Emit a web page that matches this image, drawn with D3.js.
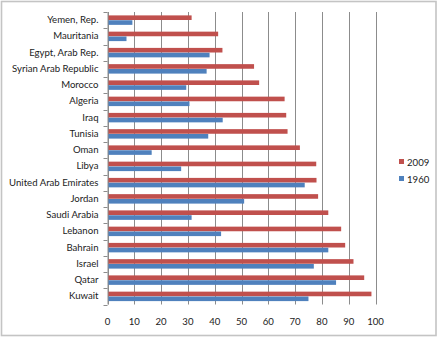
<!DOCTYPE html>
<html>
<head>
<meta charset="utf-8">
<script src="https://cdn.jsdelivr.net/npm/d3@7"></script>
<style>
  html, body { margin: 0; padding: 0; background: #fff; }
  svg { display: block; }
  text { font-family: Lato, "Open Sans", "Liberation Sans", sans-serif; fill: #222; }
</style>
</head>
<body>
<svg id="chart" width="438" height="338"></svg>
<script>
// Urban population share (% of total), Middle East & North Africa
const countries = ["Yemen, Rep.", "Mauritania", "Egypt, Arab Rep.", "Syrian Arab Republic",
  "Morocco", "Algeria", "Iraq", "Tunisia", "Oman", "Libya", "United Arab Emirates",
  "Jordan", "Saudi Arabia", "Lebanon", "Bahrain", "Israel", "Qatar", "Kuwait"];
const values2009 = [31.2, 41.1, 42.7, 54.5, 56.4, 65.9, 66.5, 67.0, 71.6, 77.7, 77.8,
  78.4, 82.2, 87.0, 88.5, 91.6, 95.6, 98.3];
const values1960 = [9.1, 6.9, 37.9, 36.8, 29.2, 30.4, 42.8, 37.4, 16.3, 27.3, 73.4,
  50.8, 31.2, 42.2, 82.2, 76.8, 85.1, 74.8];
const seriesNames = ["2009", "1960"];
const seriesColors = ["#C0504D", "#4F81BD"];
const xTicks = [0, 10, 20, 30, 40, 50, 60, 70, 80, 90, 100];

const svg = d3.select("#chart");
const plotL = 107.5, plotR = 375.5, plotT = 12, plotB = 304.5;
const fontSize = 9.6;

// outer chart frame
svg.append("rect")
  .attr("x", 1.5).attr("y", 1.5).attr("width", 434.5).attr("height", 334)
  .attr("fill", "#fff").attr("stroke", "#c4c4c4").attr("stroke-width", 1.6);

const x = d3.scaleLinear().domain([0, 100]).range([plotL, plotR]);
const y = d3.scaleBand().domain(countries).range([plotT, plotB]);
const inner = d3.scaleBand().domain(seriesNames).range([0, y.bandwidth()])
  .paddingInner(0.05).paddingOuter(0.7);

// vertical gridlines
svg.append("g").selectAll("line").data(xTicks).join("line")
  .attr("x1", d => Math.round(x(d)) + 0.5).attr("x2", d => Math.round(x(d)) + 0.5)
  .attr("y1", plotT).attr("y2", plotB)
  .attr("stroke", "#8c8c8c").attr("stroke-width", 1);

// x-axis tick labels
svg.append("g").selectAll("text").data(xTicks).join("text")
  .attr("x", d => x(d)).attr("y", 325)
  .attr("text-anchor", "middle").attr("font-size", fontSize)
  .text(d => d);

// category axis
const yAxis = svg.append("g").attr("transform", `translate(${plotL},0)`)
  .call(d3.axisLeft(y).tickSize(0).tickPadding(9));
yAxis.select(".domain").remove();
yAxis.selectAll("text").attr("font-size", fontSize)
  .attr("font-family", "Lato, 'Open Sans', sans-serif").attr("fill", "#222");

// tick marks between categories
const boundaries = d3.range(countries.length + 1).map(i => plotT + i * y.step());
svg.append("g").selectAll("line").data(boundaries).join("line")
  .attr("x1", plotL - 4).attr("x2", plotL)
  .attr("y1", d => Math.round(d) + 0.5).attr("y2", d => Math.round(d) + 0.5)
  .attr("stroke", "#8c8c8c");

// bars
const rows = countries.map((c, i) => ({ c, v: [values2009[i], values1960[i]] }));
const groups = svg.append("g").selectAll("g").data(rows).join("g")
  .attr("transform", d => `translate(0,${y(d.c)})`);
groups.selectAll("rect").data(d => d.v.map((v, k) => ({ v, k }))).join("rect")
  .attr("x", x(0) + 0.5)
  .attr("y", d => inner(seriesNames[d.k]))
  .attr("width", d => x(d.v) - x(0))
  .attr("height", inner.bandwidth())
  .attr("fill", d => seriesColors[d.k]);

// axis line
svg.append("line").attr("x1", plotL + 0.5).attr("x2", plotL + 0.5)
  .attr("y1", plotT).attr("y2", plotB).attr("stroke", "#8c8c8c");

// legend
const legend = svg.append("g").selectAll("g").data(seriesNames).join("g")
  .attr("transform", (d, i) => `translate(399,${159 + i * 17})`);
legend.append("rect").attr("width", 5).attr("height", 5)
  .attr("fill", (d, i) => seriesColors[i]);
legend.append("text").attr("x", 8).attr("y", 6.5).attr("font-size", fontSize).text(d => d);
</script>
</body>
</html>
